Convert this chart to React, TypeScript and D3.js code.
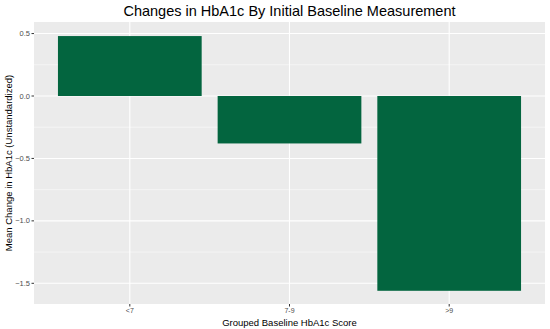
import React from 'react'
import * as d3 from 'd3'

// data
const groups = ['<7', '7-9', '>9']
const meanChange = [0.48, -0.38, -1.56]
const yTicks = [0.5, 0.0, -0.5, -1.0, -1.5]
const yMinor = [0.25, -0.25, -0.75, -1.25]

const App = () => {
    const width = 550,
        height = 329
    const panel = { left: 34, top: 22, right: 545, bottom: 304 }

    // y: 0 sits at 96, 0.5 units per ~62.4px
    const y = d3.scaleLinear().domain([0, -1.5]).range([96, 283.3])

    // discrete x like ggplot: positions 1..3 with 0.6 expansion
    const x = d3.scaleLinear().domain([0.4, 3.6]).range([panel.left, panel.right])
    const barW = 0.9

    const fmt = d3.format('.1f')

    return (
        <svg width={width} height={height} style={{ position: 'absolute', left: 0, top: 0 }}
            fontFamily="Liberation Sans, Arial, sans-serif">
            <rect x={0} y={0} width={width} height={height} fill="white" />
            <rect x={panel.left} y={panel.top} width={panel.right - panel.left} height={panel.bottom - panel.top} fill="#ebebeb" />
            {yMinor.map(v => (
                <line key={'m' + v} x1={panel.left} x2={panel.right} y1={y(v)} y2={y(v)} stroke="white" strokeWidth={0.5} />
            ))}
            {yTicks.map(v => (
                <line key={'g' + v} x1={panel.left} x2={panel.right} y1={y(v)} y2={y(v)} stroke="white" strokeWidth={1.1} />
            ))}
            {groups.map((g, i) => (
                <line key={'vx' + g} x1={x(i + 1)} x2={x(i + 1)} y1={panel.top} y2={panel.bottom} stroke="white" strokeWidth={1.1} />
            ))}
            {groups.map((g, i) => {
                const v = meanChange[i]
                return (
                    <rect key={'b' + g} x={x(i + 1 - barW / 2)} width={x(i + 1 + barW / 2) - x(i + 1 - barW / 2)}
                        y={Math.min(y(v), y(0))} height={Math.abs(y(v) - y(0))} fill="#03653f" />
                )
            })}
            {yTicks.map(v => (
                <g key={'t' + v}>
                    <line x1={panel.left - 2.5} x2={panel.left} y1={y(v)} y2={y(v)} stroke="#333" strokeWidth={1} />
                    <text x={panel.left - 4} y={y(v)} dy="0.35em" textAnchor="end" fontSize={7.5} fill="#4d4d4d">{fmt(v)}</text>
                </g>
            ))}
            {groups.map((g, i) => (
                <g key={'xt' + g}>
                    <line x1={x(i + 1)} x2={x(i + 1)} y1={panel.bottom} y2={panel.bottom + 2.5} stroke="#333" strokeWidth={1} />
                    <text x={x(i + 1)} y={313} textAnchor="middle" fontSize={7} fill="#4d4d4d">{g}</text>
                </g>
            ))}
            <text x={(panel.left + panel.right) / 2} y={326} textAnchor="middle" fontSize={9.5} fill="black">Grouped Baseline HbA1c Score</text>
            <text transform={`translate(12,${(panel.top + panel.bottom) / 2}) rotate(-90)`} textAnchor="middle" fontSize={9.5} fill="black">Mean Change in HbA1c (Unstandardized)</text>
            <text x={(panel.left + panel.right) / 2} y={16} textAnchor="middle" fontSize={14.5} fill="black">Changes in HbA1c By Initial Baseline Measurement</text>
        </svg>
    )
}

export default App
